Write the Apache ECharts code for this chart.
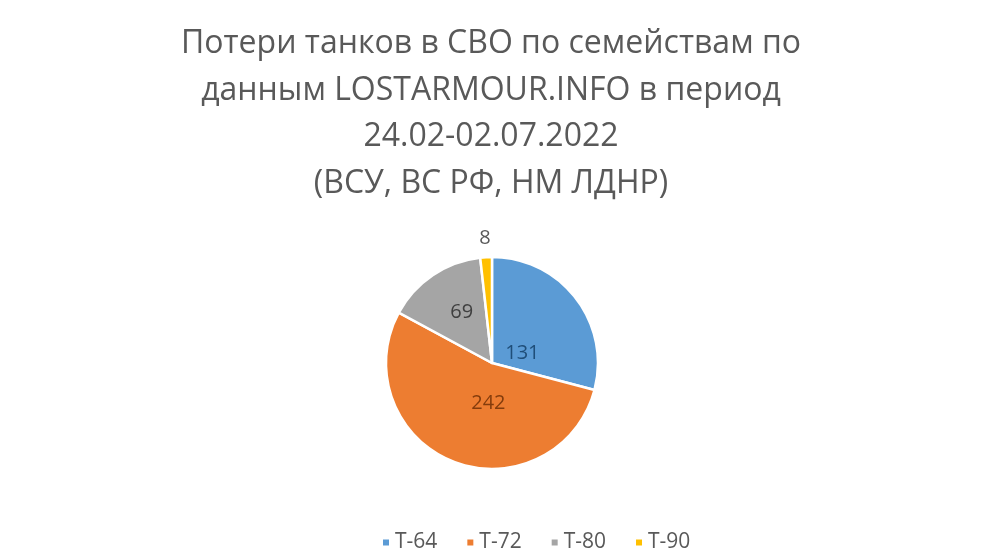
<!DOCTYPE html>
<html><head><meta charset="utf-8">
<script src="https://cdn.jsdelivr.net/npm/echarts@6/dist/echarts.min.js"></script>
<style>html,body{margin:0;padding:0;background:#fff}#c{width:982px;height:552px}</style>
</head><body><div id="c"></div>
<script>
const titleLines = ['Потери танков в СВО по семействам по', 'данным LOSTARMOUR.INFO в период', '24.02-02.07.2022', '(ВСУ, ВС РФ, НМ ЛДНР)'];
const categories = ['Т-64', 'Т-72', 'Т-80', 'Т-90'];
const values = [131, 242, 69, 8];

const colors = ['#5B9BD5', '#ED7D31', '#A5A5A5', '#FFC000'];
const labelColors = ['#1F4E79', '#843C0C', '#404040', '#595959'];
const labelOffsets = [[-14, 24], [17, -12], [1, -4], [5, -13]];
const FONT = 'Open Sans';

const chart = echarts.init(document.getElementById('c'));
chart.setOption({
  backgroundColor: '#fff',
  animation: false,
  title: {
    text: titleLines.join('\n'),
    left: 'center', top: 16,
    textStyle: { fontFamily: FONT, fontSize: 32, fontWeight: 'normal', color: '#595959', lineHeight: 46.5 }
  },
  legend: {
    bottom: -6, left: 376,
    icon: 'rect', itemWidth: 8, itemHeight: 8, itemGap: 28,
    textStyle: { fontFamily: FONT, fontSize: 21, color: '#595959' },
    data: categories
  },
  series: [{
    type: 'pie',
    center: [492, 363],
    radius: 106,
    startAngle: 90,
    clockwise: true,
    itemStyle: { borderColor: '#fff', borderWidth: 2.5 },
    label: { fontFamily: FONT, fontSize: 20 },
    data: categories.map((name, i) => {
      const small = values[i] < 20;
      return {
        name, value: values[i],
        itemStyle: { color: colors[i] },
        label: {
          show: true, formatter: '{c}',
          position: small ? 'outside' : 'inside',
          color: labelColors[i],
          offset: labelOffsets[i],
          distanceToLabelLine: 0
        },
        labelLine: { show: false, length: 6, length2: 0 }
      };
    })
  }]
});
</script></body></html>
